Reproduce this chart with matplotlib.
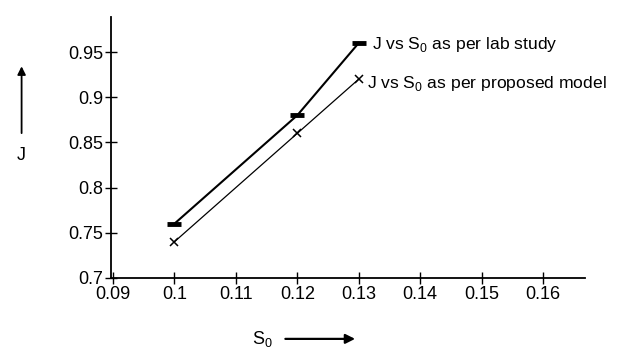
import matplotlib
matplotlib.use("Agg")
import matplotlib.pyplot as plt

plt.rcParams['font.family'] = ['Liberation Sans', 'DejaVu Sans']

s0 = [0.10, 0.12, 0.13]
j_lab = [0.76, 0.88, 0.96]
j_model = [0.74, 0.86, 0.92]
xticks = [0.09, 0.10, 0.11, 0.12, 0.13, 0.14, 0.15, 0.16]
xticklabels = ['0.09', '0.1', '0.11', '0.12', '0.13', '0.14', '0.15', '0.16']
yticks = [0.70, 0.75, 0.80, 0.85, 0.90, 0.95]
yticklabels = ['0.7', '0.75', '0.8', '0.85', '0.9', '0.95']

fig = plt.figure(figsize=(6.17, 3.53), dpi=100)
ax = fig.add_axes([0.18, 0.2125, 0.768, 0.74])

ax.plot(s0, j_lab, color='black', lw=1.5, marker='_', ms=10, mew=3.5)
ax.plot(s0, j_model, color='black', lw=0.9, marker='x', ms=6, mew=1.1)

sub = 'S$_\\mathregular{0}$'
ax.text(0.1322, 0.958, 'J vs ' + sub + ' as per lab study', fontsize=12.6, va='center', ha='left')
ax.text(0.1313, 0.915, 'J vs ' + sub + ' as per proposed model', fontsize=12.6, va='center', ha='left')

ax.set_xlim(0.0897, 0.1668)
ax.set_ylim(0.70, 0.989)
ax.set_xticks(xticks)
ax.set_xticklabels(xticklabels)
ax.set_yticks(yticks)
ax.set_yticklabels(yticklabels)
ax.tick_params(direction='inout', length=9, width=1, labelsize=13, pad=1)

for side in ['top', 'right']:
    ax.spines[side].set_visible(False)
for side in ['left', 'bottom']:
    ax.spines[side].set_linewidth(1.3)

# axis labels with arrows
fig.text(0.425, 0.04, sub, fontsize=13, ha='center', va='center')
ax.annotate('', xy=(0.58, 0.04), xytext=(0.458, 0.04), xycoords='figure fraction',
            arrowprops=dict(arrowstyle='-|>', color='black', lw=1.6, mutation_scale=14))
fig.text(0.035, 0.56, 'J', fontsize=13, ha='center', va='center')
ax.annotate('', xy=(0.035, 0.82), xytext=(0.035, 0.615), xycoords='figure fraction',
            arrowprops=dict(arrowstyle='-|>', color='black', lw=1.3, mutation_scale=12))

fig.savefig('out.png', dpi=100)
